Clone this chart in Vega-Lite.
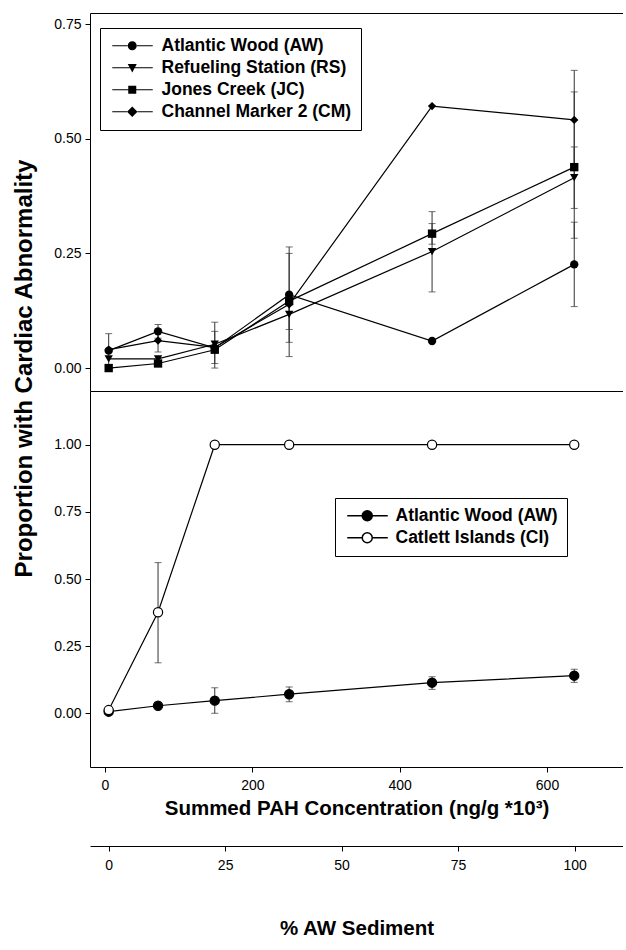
{
  "$schema": "https://vega.github.io/schema/vega-lite/v6.json",
  "padding": {"left": 12, "top": 13, "right": 0, "bottom": 0},
  "bounds": "flush",
  "spacing": 0,
  "config": {
    "font": "Liberation Sans",
    "view": {"stroke": null},
    "axis": {
      "grid": false, "domainColor": "black", "domainWidth": 1, "tickColor": "black", "tickSize": 5,
      "labelFont": "Liberation Sans", "labelFontSize": 14, "labelColor": "black",
      "titleFont": "Liberation Sans", "titleFontSize": 20.5, "titleFontWeight": "bold", "titleColor": "black"
    },
    "legend": {
      "orient": "none", "strokeColor": "black", "fillColor": "white", "padding": 9,
      "labelFont": "Liberation Sans", "labelFontSize": 17.5, "labelFontWeight": "bold", "labelColor": "black",
      "labelOffset": 35, "rowPadding": 3, "symbolSize": 100, "labelLimit": 400
    }
  },
  "datasets": {
    "top": [
      {"site": "Atlantic Wood (AW)", "pah": 5, "p": 0.038, "lo": null, "hi": null},
      {"site": "Atlantic Wood (AW)", "pah": 72, "p": 0.08, "lo": 0.065, "hi": 0.095},
      {"site": "Atlantic Wood (AW)", "pah": 149, "p": 0.044, "lo": null, "hi": null},
      {"site": "Atlantic Wood (AW)", "pah": 250, "p": 0.16, "lo": 0.056, "hi": 0.264},
      {"site": "Atlantic Wood (AW)", "pah": 444, "p": 0.059, "lo": null, "hi": null},
      {"site": "Atlantic Wood (AW)", "pah": 637, "p": 0.226, "lo": 0.134, "hi": 0.318},
      {"site": "Refueling Station (RS)", "pah": 5, "p": 0.02, "lo": null, "hi": null},
      {"site": "Refueling Station (RS)", "pah": 72, "p": 0.02, "lo": null, "hi": null},
      {"site": "Refueling Station (RS)", "pah": 149, "p": 0.052, "lo": 0.01, "hi": 0.08},
      {"site": "Refueling Station (RS)", "pah": 250, "p": 0.117, "lo": 0.084, "hi": 0.15},
      {"site": "Refueling Station (RS)", "pah": 444, "p": 0.254, "lo": 0.166, "hi": 0.341},
      {"site": "Refueling Station (RS)", "pah": 637, "p": 0.415, "lo": 0.348, "hi": 0.482},
      {"site": "Jones Creek (JC)", "pah": 5, "p": 0.0, "lo": null, "hi": null},
      {"site": "Jones Creek (JC)", "pah": 72, "p": 0.01, "lo": null, "hi": null},
      {"site": "Jones Creek (JC)", "pah": 149, "p": 0.04, "lo": 0.0, "hi": 0.1},
      {"site": "Jones Creek (JC)", "pah": 250, "p": 0.146, "lo": null, "hi": null},
      {"site": "Jones Creek (JC)", "pah": 444, "p": 0.293, "lo": 0.27, "hi": 0.315},
      {"site": "Jones Creek (JC)", "pah": 637, "p": 0.438, "lo": 0.283, "hi": 0.602},
      {"site": "Channel Marker 2 (CM)", "pah": 5, "p": 0.04, "lo": 0.0, "hi": 0.075},
      {"site": "Channel Marker 2 (CM)", "pah": 72, "p": 0.06, "lo": 0.035, "hi": 0.085},
      {"site": "Channel Marker 2 (CM)", "pah": 149, "p": 0.045, "lo": null, "hi": null},
      {"site": "Channel Marker 2 (CM)", "pah": 250, "p": 0.139, "lo": 0.025, "hi": 0.25},
      {"site": "Channel Marker 2 (CM)", "pah": 444, "p": 0.571, "lo": null, "hi": null},
      {"site": "Channel Marker 2 (CM)", "pah": 637, "p": 0.541, "lo": 0.433, "hi": 0.649}
    ],
    "bottom": [
      {"site": "Atlantic Wood (AW)", "pah": 5, "p": 0.006, "lo": null, "hi": null},
      {"site": "Atlantic Wood (AW)", "pah": 72, "p": 0.028, "lo": null, "hi": null},
      {"site": "Atlantic Wood (AW)", "pah": 149, "p": 0.047, "lo": 0.0, "hi": 0.095},
      {"site": "Atlantic Wood (AW)", "pah": 250, "p": 0.071, "lo": 0.043, "hi": 0.098},
      {"site": "Atlantic Wood (AW)", "pah": 444, "p": 0.114, "lo": 0.089, "hi": 0.136},
      {"site": "Atlantic Wood (AW)", "pah": 637, "p": 0.14, "lo": 0.115, "hi": 0.164},
      {"site": "Catlett Islands (CI)", "pah": 5, "p": 0.012, "lo": null, "hi": null},
      {"site": "Catlett Islands (CI)", "pah": 72, "p": 0.376, "lo": 0.188, "hi": 0.561},
      {"site": "Catlett Islands (CI)", "pah": 149, "p": 1.0, "lo": null, "hi": null},
      {"site": "Catlett Islands (CI)", "pah": 250, "p": 1.0, "lo": null, "hi": null},
      {"site": "Catlett Islands (CI)", "pah": 444, "p": 1.0, "lo": null, "hi": null},
      {"site": "Catlett Islands (CI)", "pah": 637, "p": 1.0, "lo": null, "hi": null}
    ],
    "pct": [{"pct": 0}, {"pct": 100}]
  },
  "vconcat": [
    {
      "width": 533, "height": 378,
      "data": {"name": "top"},
      "resolve": {"scale": {"shape": "independent"}, "legend": {"shape": "independent"}},
      "layer": [
        {
          "mark": {"type": "line", "color": "black", "strokeWidth": 1.2},
          "encoding": {
            "x": {"field": "pah", "type": "quantitative", "scale": {"domain": [-20.36, 703.2], "nice": false, "zero": false},
                  "axis": {"orient": "top", "labels": false, "ticks": false, "title": null}},
            "y": {"field": "p", "type": "quantitative", "scale": {"domain": [-0.05, 0.774], "nice": false, "zero": false},
                  "axis": {"values": [0, 0.25, 0.5, 0.75], "format": ".2f", "labelPadding": 4,
                           "title": "Proportion with Cardiac Abnormality", "titleFontSize": 24, "titleX": -54, "titleY": 355,
                           "titleAngle": -90, "titleAlign": "center", "titleBaseline": "bottom"}},
            "detail": {"field": "site"}
          }
        },
        {
          "mark": {"type": "rule", "color": "#333", "strokeWidth": 1},
          "encoding": {
            "x": {"field": "pah", "type": "quantitative", "axis": null},
            "y": {"field": "lo", "type": "quantitative"},
            "y2": {"field": "hi"}
          }
        },
        {
          "mark": {"type": "tick", "orient": "horizontal", "color": "#333", "size": 7, "thickness": 1},
          "encoding": {
            "x": {"field": "pah", "type": "quantitative", "axis": null},
            "y": {"field": "lo", "type": "quantitative"}
          }
        },
        {
          "mark": {"type": "tick", "orient": "horizontal", "color": "#333", "size": 7, "thickness": 1},
          "encoding": {
            "x": {"field": "pah", "type": "quantitative", "axis": null},
            "y": {"field": "hi", "type": "quantitative"}
          }
        },
        {
          "mark": {"type": "point", "filled": true, "color": "black", "opacity": 1, "size": 70},
          "encoding": {
            "x": {"field": "pah", "type": "quantitative",
                  "axis": {"orient": "bottom", "labels": false, "ticks": false, "title": null}},
            "y": {"field": "p", "type": "quantitative"},
            "shape": {
              "field": "site", "type": "nominal",
              "scale": {"domain": ["Atlantic Wood (AW)", "Refueling Station (RS)", "Jones Creek (JC)", "Channel Marker 2 (CM)"],
                        "range": ["circle", "triangle-down", "square", "diamond"]},
              "legend": null
            }
          }
        },
        {
          "transform": [{"filter": "false"}],
          "mark": {"type": "point", "filled": true, "color": "black", "opacity": 1},
          "encoding": {
            "x": {"field": "pah", "type": "quantitative", "axis": null},
            "y": {"field": "p", "type": "quantitative"},
            "shape": {
              "field": "site", "type": "nominal",
              "scale": {"domain": ["Atlantic Wood (AW)", "Refueling Station (RS)", "Jones Creek (JC)", "Channel Marker 2 (CM)"],
                        "range": [
                          "M-1.1,-0.12H2.05V0.12H-1.1Z M3.75,-0.12H7V0.12H3.75Z M2,0A0.9,0.9,0,1,0,3.8,0A0.9,0.9,0,1,0,2,0Z",
                          "M-1.1,-0.12H2.4V0.12H-1.1Z M3.4,-0.12H7V0.12H3.4Z M2,-0.75H3.8L2.9,0.95Z",
                          "M-1.1,-0.12H2.1V0.12H-1.1Z M3.7,-0.12H7V0.12H3.7Z M2.1,-0.8H3.7V0.8H2.1Z",
                          "M-1.1,-0.12H1.85V0.12H-1.1Z M3.95,-0.12H7V0.12H3.95Z M2.9,-1.05L3.95,0L2.9,1.05L1.85,0Z"
                        ]},
              "legend": {"title": null, "legendX": 10, "legendY": 15}
            }
          }
        }
      ]
    },
    {
      "width": 533, "height": 376,
      "data": {"name": "bottom"},
      "layer": [
        {
          "mark": {"type": "line", "color": "black", "strokeWidth": 1.2},
          "encoding": {
            "x": {"field": "pah", "type": "quantitative", "scale": {"domain": [-20.36, 703.2], "nice": false, "zero": false},
                  "axis": {"values": [0, 200, 400, 600], "labelPadding": 6, "titlePadding": 6,
                           "title": "Summed PAH Concentration (ng/g *10³)"}},
            "y": {"field": "p", "type": "quantitative", "scale": {"domain": [-0.2, 1.2], "nice": false, "zero": false},
                  "axis": {"values": [0, 0.25, 0.5, 0.75, 1], "format": ".2f", "labelPadding": 4, "title": null}},
            "detail": {"field": "site"}
          }
        },
        {
          "mark": {"type": "rule", "color": "#333", "strokeWidth": 1},
          "encoding": {
            "x": {"field": "pah", "type": "quantitative"},
            "y": {"field": "lo", "type": "quantitative"},
            "y2": {"field": "hi"}
          }
        },
        {
          "mark": {"type": "tick", "orient": "horizontal", "color": "#333", "size": 7, "thickness": 1},
          "encoding": {
            "x": {"field": "pah", "type": "quantitative"},
            "y": {"field": "lo", "type": "quantitative"}
          }
        },
        {
          "mark": {"type": "tick", "orient": "horizontal", "color": "#333", "size": 7, "thickness": 1},
          "encoding": {
            "x": {"field": "pah", "type": "quantitative"},
            "y": {"field": "hi", "type": "quantitative"}
          }
        },
        {
          "mark": {"type": "point", "stroke": "black", "strokeWidth": 1.2, "opacity": 1, "size": 85},
          "encoding": {
            "x": {"field": "pah", "type": "quantitative"},
            "y": {"field": "p", "type": "quantitative"},
            "fill": {
              "field": "site", "type": "nominal",
              "scale": {"domain": ["Atlantic Wood (AW)", "Catlett Islands (CI)"], "range": ["black", "white"]},
              "legend": {
                "title": null, "legendX": 245, "legendY": 107, "labelOffset": 34,
                "symbolType": "M-1.1,0H1.9M3.9,0H7M1.9,0A1,1,0,1,0,3.9,0A1,1,0,1,0,1.9,0Z"
              }
            }
          }
        }
      ]
    },
    {
      "width": 533, "height": 79,
      "data": {"name": "pct"},
      "mark": {"type": "point", "opacity": 0},
      "encoding": {
        "x": {"field": "pct", "type": "quantitative", "scale": {"domain": [-4.01, 110.4], "nice": false, "zero": false},
              "axis": {"values": [0, 25, 50, 75, 100], "labelPadding": 7, "titlePadding": 46, "title": "% AW Sediment"}}
      }
    }
  ],
  "resolve": {
    "scale": {"x": "independent", "y": "independent", "shape": "independent", "fill": "independent"},
    "legend": {"shape": "independent", "fill": "independent"}
  }
}
